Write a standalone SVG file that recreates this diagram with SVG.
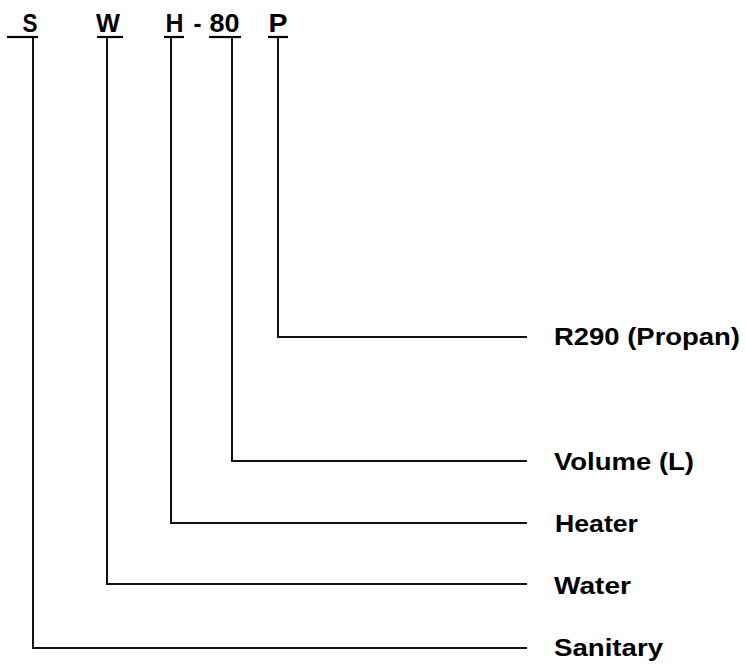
<svg xmlns="http://www.w3.org/2000/svg" width="746" height="664" viewBox="0 0 746 664">
<style>
.t{font-family:"Liberation Sans",Arial,sans-serif;font-weight:bold;font-size:24.5px;fill:#000}
.h{font-family:"Liberation Sans",Arial,sans-serif;font-weight:bold;font-size:26.5px;fill:#000}
.u{stroke:#000;stroke-width:2.2}
.c{fill:none;stroke:#111;stroke-width:2}
</style>
<rect width="746" height="664" fill="#fff"/>
<g id="code">
<g id="code-S"><text class="h" x="22.5" y="32" textLength="15" lengthAdjust="spacingAndGlyphs">S</text><line class="u" x1="7" y1="37" x2="38" y2="37"/></g>
<g id="code-W"><text class="h" x="96" y="32" textLength="24" lengthAdjust="spacingAndGlyphs">W</text><line class="u" x1="97" y1="37" x2="123" y2="37"/></g>
<g id="code-H"><text class="h" x="165.5" y="32" textLength="18" lengthAdjust="spacingAndGlyphs">H</text><line class="u" x1="164" y1="37" x2="184" y2="37"/></g>
<g id="code-dash"><text class="h" x="193.5" y="32" textLength="8" lengthAdjust="spacingAndGlyphs">-</text></g>
<g id="code-80"><text class="h" x="209.5" y="32" textLength="30" lengthAdjust="spacingAndGlyphs">80</text><line class="u" x1="209" y1="37" x2="241" y2="37"/></g>
<g id="code-P"><text class="h" x="268.5" y="32" textLength="19" lengthAdjust="spacingAndGlyphs">P</text><line class="u" x1="268" y1="37" x2="288" y2="37"/></g>
</g>
<g id="connectors">
<polyline class="c" points="278,38 278,337 527,337"/>
<polyline class="c" points="232,38 232,461 527,461"/>
<polyline class="c" points="171,38 171,523 527,523"/>
<polyline class="c" points="107,38 107,584 527,584"/>
<polyline class="c" points="33,38 33,648 527,648"/>
</g>
<g id="label-R290"><text class="t" x="554" y="345" textLength="186" lengthAdjust="spacingAndGlyphs">R290 (Propan)</text></g>
<g id="label-volume"><text class="t" x="554" y="470" textLength="140" lengthAdjust="spacingAndGlyphs">Volume (L)</text></g>
<g id="label-heater"><text class="t" x="555" y="532" textLength="83" lengthAdjust="spacingAndGlyphs">Heater</text></g>
<g id="label-water"><text class="t" x="554" y="594" textLength="77" lengthAdjust="spacingAndGlyphs">Water</text></g>
<g id="label-sanitary"><text class="t" x="554" y="656" textLength="109" lengthAdjust="spacingAndGlyphs">Sanitary</text></g>
</svg>
